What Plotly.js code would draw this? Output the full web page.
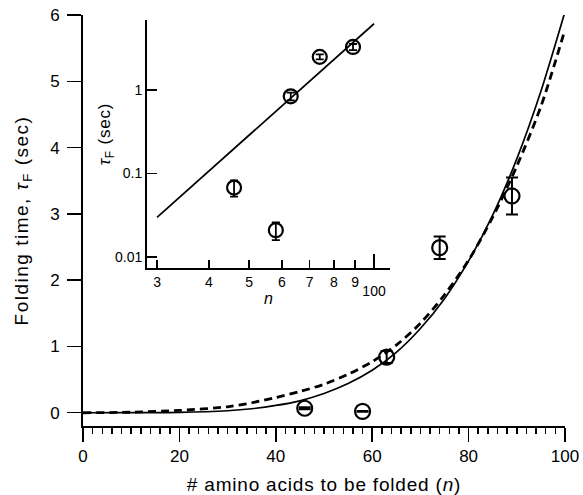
<!DOCTYPE html>
<html>
<head>
<meta charset="utf-8">
<script src="https://cdn.plot.ly/plotly-3.0.1.min.js"></script>
<style>
  html, body { margin: 0; padding: 0; background: #fff; }
  #chart { width: 583px; height: 495px; }
  .xtitle { letter-spacing: 0.8px; }
  .ytitle { letter-spacing: 1.5px; }
  .annotation-text { letter-spacing: 0.8px; }
</style>
</head>
<body>
<div id="chart"></div>
<script>
// ---- data ----
const nMeasured   = [46, 58, 63, 74, 89];
const tauMeasured = [0.068, 0.021, 0.84, 2.49, 3.27];
const tauError    = [0.015, 0.005, 0.09, 0.17, 0.28];

// fitted curves (main panel)
const curveN   = [0, 10, 20, 30, 35, 40, 45, 50, 55, 60, 65, 70, 75, 80, 85, 90, 95, 100];
const solidFit = [0, 0.0003, 0.005, 0.03, 0.06, 0.11, 0.18, 0.29, 0.44, 0.64, 0.91, 1.27, 1.72, 2.29, 2.98, 3.83, 4.85, 6.05];
const dashFit  = [0, 0.008, 0.035, 0.09, 0.15, 0.23, 0.32, 0.43, 0.58, 0.77, 1.02, 1.35, 1.78, 2.30, 2.95, 3.72, 4.62, 5.78];

// inset log-log fit line
const fitN   = [30, 100];
const fitTau = [0.03, 6.2];

// tick labels
const mainXTicks = [0, 20, 40, 60, 80, 100];
const mainYTicks = [0, 1, 2, 3, 4, 5, 6];
const insetXTicks = [30, 40, 50, 60, 70, 80, 90];
const insetXText  = ['3', '4', '5', '6', '7', '8', '9'];
const insetX100   = [100];
const insetX100Text = ['100'];
const insetYTicks = [0.01, 0.1, 1];
const insetYText  = ['0.01', '0.1', '1'];

const FONT = 'Liberation Sans, Arial, Helvetica, sans-serif';

const traces = [
  { x: curveN, y: solidFit, xaxis: 'x', yaxis: 'y', mode: 'lines',
    line: { color: '#000', width: 1.7, shape: 'spline', smoothing: 0.8 }, hoverinfo: 'skip' },
  { x: curveN, y: dashFit, xaxis: 'x', yaxis: 'y', mode: 'lines',
    line: { color: '#000', width: 2.8, dash: '8px,5px', shape: 'spline', smoothing: 0.8 }, hoverinfo: 'skip' },
  { x: nMeasured, y: tauMeasured, xaxis: 'x', yaxis: 'y', mode: 'markers',
    marker: { symbol: 'circle-open', size: 15, color: '#000', line: { width: 2.2, color: '#000' } },
    error_y: { type: 'data', array: tauError, visible: true, color: '#000', thickness: 2, width: 6 } },
  // inset fit line drawn on x3 (which overlays x2 with identical range)
  { x: fitN, y: fitTau, xaxis: 'x3', yaxis: 'y2', mode: 'lines',
    line: { color: '#000', width: 1.7 }, hoverinfo: 'skip' },
  { x: nMeasured, y: tauMeasured, xaxis: 'x2', yaxis: 'y2', mode: 'markers',
    marker: { symbol: 'circle-open', size: 14, color: '#000', line: { width: 2.2, color: '#000' } },
    error_y: { type: 'data', array: tauError, visible: true, color: '#000', thickness: 1.8, width: 4 } }
];

const layout = {
  width: 583, height: 495,
  margin: { l: 83, r: 18, t: 15, b: 69 },
  paper_bgcolor: '#fff', plot_bgcolor: 'rgba(0,0,0,0)',
  showlegend: false,
  font: { family: FONT, color: '#000', size: 17 },
  xaxis: {
    domain: [0, 1], range: [0, 100], anchor: 'y',
    showgrid: false, zeroline: false, showline: true, linewidth: 2, linecolor: '#000',
    tickmode: 'array', tickvals: mainXTicks, ticks: 'outside', ticklen: 14, tickwidth: 1.5, tickcolor: '#000',
    minor: { dtick: 2, ticks: 'outside', ticklen: 6, tickwidth: 1.5, tickcolor: '#000' },
    tickfont: { size: 17 },
    title: { text: '# amino acids to be folded (<i>n</i>)', font: { size: 19 }, standoff: 12 }
  },
  yaxis: {
    domain: [0, 1], range: [-0.2, 6], anchor: 'x',
    showgrid: false, zeroline: false, showline: true, linewidth: 2, linecolor: '#000',
    tickmode: 'array', tickvals: mainYTicks, ticks: 'outside', ticklen: 14, tickwidth: 1.5, tickcolor: '#000',
    tickfont: { size: 17 }, ticklabelstandoff: 4,
    title: { text: 'Folding time, <i>τ</i><sub>F</sub> (sec)', font: { size: 19 }, standoff: 16 }
  },
  xaxis2: {
    domain: [0.1328, 0.637], type: 'log', range: [1.453, 2.0386], anchor: 'y2',
    showgrid: false, zeroline: false, showline: true, linewidth: 2, linecolor: '#000',
    tickmode: 'array', tickvals: insetXTicks, ticktext: insetXText,
    ticks: 'inside', ticklen: 8, tickwidth: 1.5, tickcolor: '#000',
    tickfont: { size: 14 },
    title: { text: '<i>n</i>', font: { size: 16 }, standoff: 4 }
  },
  xaxis3: {
    overlaying: 'x2', type: 'log', range: [1.453, 2.0386], anchor: 'y2', side: 'bottom',
    showgrid: false, zeroline: false, showline: false,
    tickmode: 'array', tickvals: insetX100, ticktext: insetX100Text,
    ticks: 'inside', ticklen: 14, tickwidth: 1.5, tickcolor: '#000',
    tickfont: { size: 14 }, ticklabelstandoff: 13
  },
  yaxis2: {
    domain: [0.384, 0.988], type: 'log', range: [-2.132, 0.838], anchor: 'x2',
    showgrid: false, zeroline: false, showline: true, linewidth: 2, linecolor: '#000',
    tickmode: 'array', tickvals: insetYTicks, ticktext: insetYText,
    ticks: 'inside', ticklen: 10, tickwidth: 1.5, tickcolor: '#000',
    tickfont: { size: 14 }
  },
  annotations: [
    { text: '<i>τ</i><sub>F</sub> (sec)', xref: 'paper', yref: 'paper', x: 0.048, y: 0.71,
      xanchor: 'center', yanchor: 'middle', textangle: -90, showarrow: false,
      font: { size: 17, family: FONT, color: '#000' } }
  ]
};

Plotly.newPlot('chart', traces, layout, { staticPlot: true, displayModeBar: false });
</script>
</body>
</html>
